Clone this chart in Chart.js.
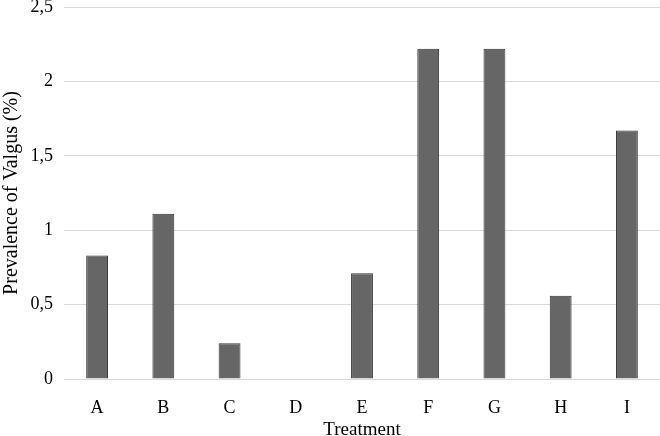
<!DOCTYPE html>
<html><head><meta charset="utf-8">
<script src="https://cdn.jsdelivr.net/npm/chart.js@4"></script>
<style>html,body{margin:0;padding:0;background:#fff}#w{width:660px;height:436px}</style>
</head><body><div id="w"><canvas id="c"></canvas></div>
<script>
const categories = ["A","B","C","D","E","F","G","H","I"];
const prevalence = [0.83,1.11,0.24,0,0.71,2.22,2.22,0.56,1.67];
const yTicks = [0,0.5,1,1.5,2,2.5];
const xTitle = "Treatment";
const yTitle = "Prevalence of Valgus (%)";
const fam = "'Liberation Serif','Times New Roman',serif";
new Chart(document.getElementById('c'), {
  type: 'bar',
  data: { labels: categories, datasets: [{ data: prevalence, backgroundColor: '#666666', borderColor: '#333333', borderWidth: 1, categoryPercentage: 1, barPercentage: 0.33 }] },
  options: {
    responsive: true, maintainAspectRatio: false, animation: false,
    layout: { padding: { top: 7, right: 0, left: 0, bottom: -5 } },
    plugins: { legend: { display: false }, tooltip: { enabled: false } },
    scales: {
      x: {
        afterFit: s => { s.height = 62; },
        grid: { display: false },
        border: { display: true, color: '#d9d9d9' },
        ticks: { color: '#000', font: { family: fam, size: 18 }, padding: 10 },
        title: { display: true, text: xTitle, color: '#000', font: { family: fam, size: 19 }, padding: { top: 2, bottom: 0 } }
      },
      y: {
        min: 0, max: 2.5,
        afterBuildTicks: s => { s.ticks = yTicks.map(v => ({ value: v })); },
        afterFit: s => { s.width = 64; s.paddingTop = 0; s.paddingBottom = 0; },
        grid: { color: '#d9d9d9', drawTicks: false },
        border: { display: false },
        ticks: { color: '#000', font: { family: fam, size: 18 }, padding: 11, callback: v => String(v).replace('.', ',') },
        title: { display: true, text: yTitle, color: '#000', font: { family: fam, size: 20 }, padding: { top: 0, bottom: 0 } }
      }
    }
  }
});
</script></body></html>
